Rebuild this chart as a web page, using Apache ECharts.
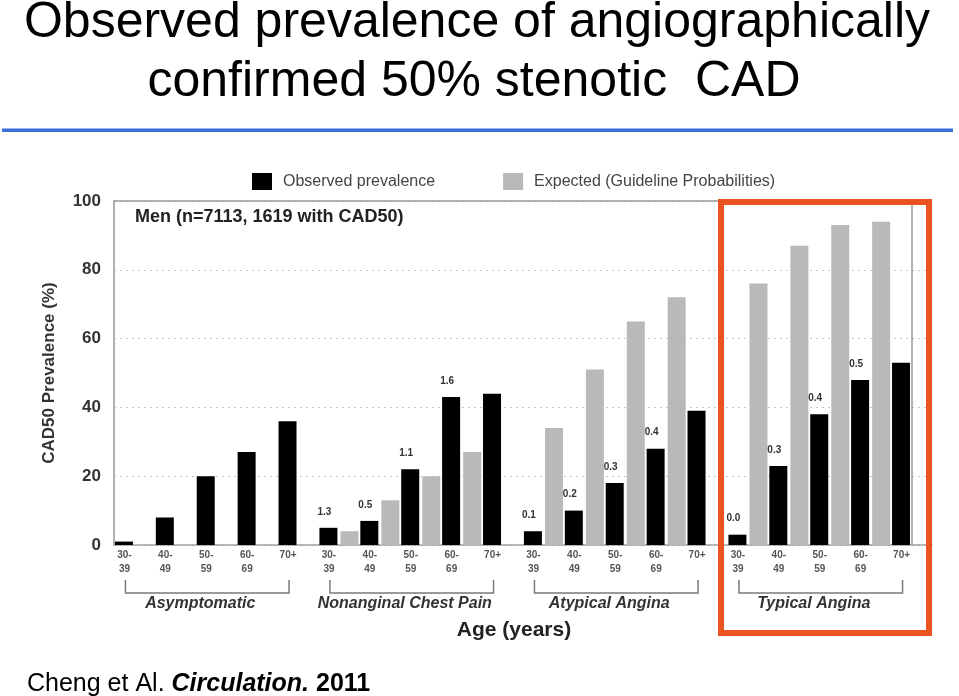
<!DOCTYPE html>
<html>
<head>
<meta charset="utf-8">
<script src="https://cdn.jsdelivr.net/npm/echarts@6/dist/echarts.min.js"></script>
<style>
  html, body { margin: 0; padding: 0; background: #fff; }
  #chart { width: 959px; height: 696px; }
</style>
</head>
<body>
<div id="chart"></div>
<script>
// ---- data ----
var groups = ['Asymptomatic', 'Nonanginal Chest Pain', 'Atypical Angina', 'Typical Angina'];
var ageBands = ['30-\n39', '40-\n49', '50-\n59', '60-\n69', '70+'];
var observed = [1, 8, 20, 27, 36, 5, 7, 22, 43, 44, 4, 10, 18, 28, 39, 3, 23, 38, 48, 53];
var expected = [null, null, null, null, null, 4, 13, 20, 27, null, 34, 51, 65, 72, null, 76, 87, 93, 94, null];
var ratios = [null, null, null, null, null, 1.3, 0.5, 1.1, 1.6, null, 0.1, 0.2, 0.3, 0.4, null, 0.0, 0.3, 0.4, 0.5, null];
var yTicks = [0, 20, 40, 60, 80, 100];

// ---- derived ----
var categories = [];
var tickLabels = [];
groups.forEach(function (g) {
  ageBands.forEach(function (a) {
    categories.push(g + ' ' + a.replace('\n', ''));
    tickLabels.push(a);
  });
});
var bracketData = groups.map(function (g, i) {
  return [i * ageBands.length, i * ageBands.length + ageBands.length - 1];
});

var FONT = "'Liberation Sans', Arial, Helvetica, sans-serif";
var chart = echarts.init(document.getElementById('chart'), null, { renderer: 'canvas' });

var option = {
  backgroundColor: '#ffffff',
  animation: false,
  textStyle: { fontFamily: FONT },
  legend: {
    data: ['Observed prevalence', 'Expected (Guideline Probabilities)'],
    left: 247, top: 168,
    icon: 'rect', itemWidth: 20, itemHeight: 17, itemGap: 68,
    textStyle: { fontFamily: FONT, fontSize: 16, color: '#444', padding: [0, 0, 0, 6] }
  },
  grid: { left: 114, right: 27, top: 201, bottom: 151, containLabel: false },
  xAxis: {
    type: 'category',
    data: categories,
    axisLine: { show: true, lineStyle: { color: '#a0a0a0', width: 1.5 } },
    axisTick: { show: false },
    axisLabel: {
      interval: 0,
      margin: 3,
      fontFamily: FONT, fontSize: 10, fontWeight: 'bold', color: '#555', lineHeight: 14,
      padding: [0, 20, 0, 0],
      formatter: function (v, idx) { return tickLabels[idx]; }
    },
    splitLine: { show: false }
  },
  yAxis: {
    type: 'value', min: 0, max: 100, interval: 20,
    name: 'CAD50 Prevalence (%)',
    nameLocation: 'middle', nameGap: 56, nameRotate: 90,
    nameTextStyle: { fontFamily: FONT, fontSize: 17, fontWeight: 'bold', color: '#333' },
    axisLine: { show: true, lineStyle: { color: '#999', width: 1.5 } },
    axisTick: { show: false },
    axisLabel: {
      margin: 13, fontFamily: FONT, fontSize: 17, fontWeight: 'bold', color: '#333',
      formatter: function (v) { return yTicks.indexOf(v) >= 0 ? String(v) : ''; }
    },
    splitLine: { show: true, lineStyle: { color: '#c8c8c8', type: [2, 4], width: 1.2 } }
  },
  series: [
    {
      name: 'Observed prevalence',
      type: 'bar',
      data: observed,
      barWidth: 18,
      barGap: '17%',
      itemStyle: { color: '#000000' },
      label: {
        show: true, position: 'top', distance: 11, offset: [-4, 0],
        fontFamily: FONT, fontSize: 10, fontWeight: 'bold', color: '#333',
        formatter: function (p) {
          var r = ratios[p.dataIndex];
          return (r === null || r === undefined) ? '' : r.toFixed(1);
        }
      },
      z: 3
    },
    {
      name: 'Expected (Guideline Probabilities)',
      type: 'bar',
      data: expected,
      barWidth: 18,
      itemStyle: { color: '#b9b9b9' },
      z: 2
    },
    {
      type: 'custom',
      name: 'brackets',
      data: bracketData,
      clip: false,
      silent: true,
      z: 5,
      markLine: {
        silent: true, symbol: 'none',
        label: { show: false },
        lineStyle: { color: '#9a9a9a', type: 'solid', width: 1.5 },
        data: [{ yAxis: 100 }, { xAxis: categories[categories.length - 1] }]
      },
      renderItem: function (params, api) {
        var s = api.coord([api.value(0), 0]);
        var e = api.coord([api.value(1), 0]);
        var x1 = s[0] - 9, x2 = e[0] - 9;
        var yTop = s[1] + 35, yBot = s[1] + 48;
        return {
          type: 'group',
          children: [
            {
              type: 'polyline',
              shape: { points: [[x1, yTop], [x1, yBot], [x2, yBot], [x2, yTop]] },
              style: { stroke: '#7a7a7a', lineWidth: 1.5, fill: null }
            },
            {
              type: 'text',
              x: (x1 + x2) / 2 - 7,
              y: s[1] + 59,
              style: {
                text: groups[params.dataIndex],
                font: 'italic bold 16px ' + FONT,
                fill: '#333',
                align: 'center', verticalAlign: 'middle',
                textAlign: 'center', textVerticalAlign: 'middle'
              }
            }
          ]
        };
      }
    }
  ],
  graphic: [
    {
      type: 'text', x: 477, y: 23,
      style: {
        text: 'Observed prevalence of angiographically',
        font: '50px ' + FONT, fill: '#000',
        align: 'center', verticalAlign: 'middle', textAlign: 'center', textVerticalAlign: 'middle'
      }
    },
    {
      type: 'text', x: 474, y: 82,
      style: {
        text: 'confirmed 50% stenotic  CAD',
        font: '50px ' + FONT, fill: '#000',
        align: 'center', verticalAlign: 'middle', textAlign: 'center', textVerticalAlign: 'middle'
      }
    },
    {
      type: 'rect', shape: { x: 2, y: 128.5, width: 951, height: 3.5 },
      style: { fill: '#3c6fdc' }
    },
    {
      type: 'text', x: 135, y: 217,
      style: {
        text: 'Men (n=7113, 1619 with CAD50)',
        font: 'bold 18px ' + FONT, fill: '#222',
        align: 'left', verticalAlign: 'middle', textAlign: 'left', textVerticalAlign: 'middle'
      }
    },
    {
      type: 'text', x: 514, y: 630,
      style: {
        text: 'Age (years)',
        font: 'bold 21px ' + FONT, fill: '#222',
        align: 'center', verticalAlign: 'middle', textAlign: 'center', textVerticalAlign: 'middle'
      }
    },
    {
      type: 'rect', shape: { x: 721, y: 202, width: 208, height: 431 },
      style: { fill: null, stroke: '#ea5220', lineWidth: 6 }, z: 100
    },
    {
      type: 'text', x: 27, y: 684,
      style: {
        text: '{a|Cheng et Al. }{b|Circulation.}{c| 2011}',
        align: 'left', verticalAlign: 'middle', textAlign: 'left', textVerticalAlign: 'middle',
        rich: {
          a: { fontFamily: FONT, fontSize: 25, color: '#000' },
          b: { fontFamily: FONT, fontSize: 25, fontStyle: 'italic', fontWeight: 'bold', color: '#000' },
          c: { fontFamily: FONT, fontSize: 25, fontWeight: 'bold', color: '#000' }
        }
      }
    }
  ]
};
chart.setOption(option);
</script>
</body>
</html>
